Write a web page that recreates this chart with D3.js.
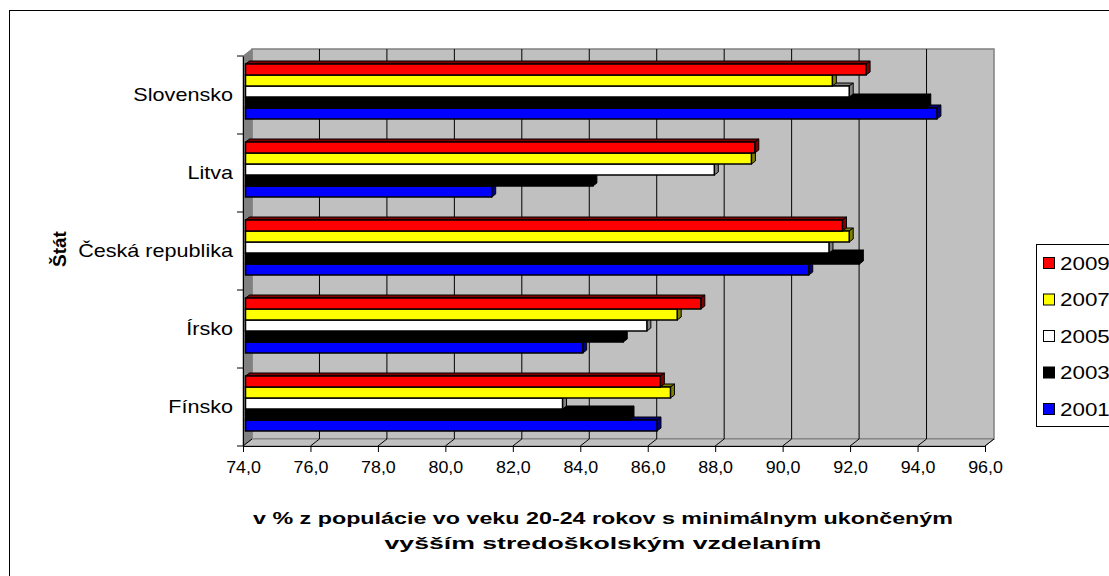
<!DOCTYPE html>
<html><head><meta charset="utf-8">
<script src="https://cdn.jsdelivr.net/npm/d3@7"></script>
<style>body{margin:0;background:#fff}svg{display:block}text{font-family:"Liberation Sans",Arial,sans-serif}</style>
</head><body>
<svg id="c" width="1109" height="576"></svg>
<script>
const categories = ["Slovensko","Litva","Česká republika","Írsko","Fínsko"];
const years = ["2009","2007","2005","2003","2001"];
const v2009 = [92.4, 89.1, 91.7, 87.5, 86.3];
const v2007 = [91.4, 89.0, 91.9, 86.8, 86.6];
const v2005 = [91.9, 87.9, 91.3, 85.9, 83.4];
const v2003 = [94.2, 84.3, 92.2, 85.2, 85.4];
const v2001 = [94.5, 81.3, 90.7, 84.0, 86.2];
const tickValues = [74,76,78,80,82,84,86,88,90,92,94,96];
const series = [v2009, v2007, v2005, v2003, v2001];
const colors = ["#ff0000","#ffff00","#ffffff","#000000","#0000ff"];
const dark = ["#800000","#808000","#808080","#000000","#000080"];

const svg = d3.select("#c");
svg.append("rect").attr("x",9.5).attr("y",10.5).attr("width",1200).attr("height",700)
  .attr("fill","none").attr("stroke","#000");

const x = d3.scaleLinear().domain([74,96]).range([243,985]);
const y = d3.scaleBand().domain(categories).range([56,446]).padding(0);
const yi = d3.scaleBand().domain(years).range([0,55]).padding(0);
const DX = 9, DY = -7;
const FX = 2.5, FY = -2;
const BX = 4, BY = -3;
const pTop = 56, pBot = 446;
const SX = 1.2;

svg.append("rect").attr("x",x(74)+DX).attr("y",pTop+DY).attr("width",x(96)-x(74)).attr("height",pBot-pTop)
  .attr("fill","#c0c0c0").attr("stroke","#808080").attr("stroke-width",1.5);
svg.append("path").attr("d",`M${x(74)},${pTop}L${x(74)+DX},${pTop+DY}L${x(74)+DX},${pBot+DY}L${x(74)},${pBot}Z`)
  .attr("fill","#808080").attr("stroke","#808080");
svg.append("path").attr("d",`M${x(74)},${pBot}L${x(74)+DX},${pBot+DY}L${x(96)+DX},${pBot+DY}L${x(96)},${pBot}Z`)
  .attr("fill","#c0c0c0").attr("stroke","#808080");
tickValues.forEach(t=>{
  if(t>74 && t<96) svg.append("line").attr("x1",x(t)+DX).attr("x2",x(t)+DX).attr("y1",pTop+DY).attr("y2",pBot+DY)
    .attr("stroke","#000").attr("stroke-width",1);
  svg.append("line").attr("x1",x(t)).attr("y1",pBot).attr("x2",x(t)+DX).attr("y2",pBot+DY)
    .attr("stroke","#000").attr("stroke-width",1);
});

categories.forEach((cat,ci)=>{
  for(let si=series.length-1; si>=0; si--){
    const v = series[si][ci];
    const x0 = x(74)+FX, x1 = x(v)+FX;
    const y0 = y(cat)+10+yi(years[si])+FY, h = yi.bandwidth();
    const g = svg.append("g");
    g.append("path").attr("d",`M${x0},${y0}L${x0+BX},${y0+BY}L${x1+BX},${y0+BY}L${x1},${y0}Z`)
      .attr("fill",dark[si]).attr("stroke","#000").attr("stroke-width",1);
    g.append("path").attr("d",`M${x1},${y0}L${x1+BX},${y0+BY}L${x1+BX},${y0+h+BY}L${x1},${y0+h}Z`)
      .attr("fill",dark[si]).attr("stroke","#000").attr("stroke-width",1);
    g.append("rect").attr("x",x0).attr("y",y0).attr("width",x1-x0).attr("height",h)
      .attr("fill",colors[si]).attr("stroke","#000").attr("stroke-width",1.5);
  }
});

const xa = svg.append("g").attr("transform",`translate(0,${pBot})`)
  .call(d3.axisBottom(x).tickValues(tickValues).tickSize(6).tickPadding(9)
    .tickFormat(d=>d3.format(".1f")(d).replace(".",",")));
xa.select(".domain").attr("stroke","#000");
xa.selectAll(".tick text").attr("font-size","17px").attr("fill","#000").attr("font-family","Liberation Sans, Arial, sans-serif")
  .attr("transform","scale(1.05,1)").attr("x",0);

const ya = svg.append("g").attr("transform",`translate(${x(74)},0)`)
  .call(d3.axisLeft(y).tickSize(0).tickPadding(0));
ya.select(".domain").attr("stroke","#000");
ya.selectAll(".tick text").attr("font-size","18px").attr("fill","#000").attr("font-family","Liberation Sans, Arial, sans-serif")
  .attr("x",-10/SX).attr("transform",`scale(${SX},1)`);
d3.range(categories.length+1).forEach(i=>{
  const yy = 56 + i*y.step();
  svg.append("line").attr("x1",x(74)-6).attr("x2",x(74)).attr("y1",yy).attr("y2",yy).attr("stroke","#000");
});

svg.append("text").attr("transform","translate(66,249) rotate(-90)").attr("text-anchor","middle")
  .attr("font-weight","bold").attr("font-size","19px").text("Štát");
svg.append("text").attr("x",603).attr("y",524).attr("text-anchor","middle").attr("font-weight","bold")
  .attr("font-size","17px").attr("textLength",700).attr("lengthAdjust","spacingAndGlyphs")
  .text("v % z populácie vo veku 20-24 rokov s minimálnym ukončeným");
svg.append("text").attr("x",603).attr("y",549).attr("text-anchor","middle").attr("font-weight","bold")
  .attr("font-size","17px").attr("textLength",437).attr("lengthAdjust","spacingAndGlyphs")
  .text("vyšším stredoškolským vzdelaním");

const lg = svg.append("g");
lg.append("rect").attr("x",1036.5).attr("y",244.5).attr("width",120).attr("height",182)
  .attr("fill","#fff").attr("stroke","#000");
years.forEach((yr,i)=>{
  const cy = 263 + i*36.5;
  lg.append("rect").attr("x",1043.5).attr("y",cy-5.5).attr("width",11).attr("height",11)
    .attr("fill",colors[i]).attr("stroke","#000");
  lg.append("text").attr("transform",`translate(1060,${cy+6.5}) scale(1.28,1)`).attr("font-size","17.5px").text(yr);
});
</script>
</body></html>
